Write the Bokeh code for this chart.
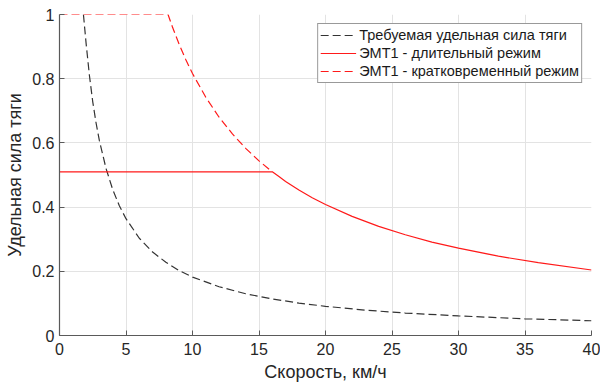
from bokeh.plotting import figure
from bokeh.models import Range1d, FixedTicker, Legend, LegendItem, CustomJSTickFormatter
from bokeh.embed import file_html
from bokeh.resources import INLINE

# Required specific traction force (black dashed)
req_x = [1.8, 2.0, 2.25, 2.5, 2.75, 3.0, 3.5, 4.0, 4.5, 5.0, 6.0, 7.0, 8.0, 9.0, 10.0,
         12.0, 14.0, 16.0, 18.0, 20.0, 23.0, 26.0, 30.0, 35.0, 40.0]
req_y = [1.0, 0.91, 0.81, 0.728, 0.662, 0.607, 0.52, 0.455, 0.404, 0.364, 0.303, 0.26,
         0.228, 0.202, 0.182, 0.152, 0.13, 0.114, 0.101, 0.091, 0.079, 0.07, 0.061, 0.052, 0.046]

# EMT1 continuous mode (red solid)
cont_x = [0.0, 16.0, 16.5, 17.0, 18.0, 19.0, 20.0, 22.0, 24.0, 26.0, 28.0, 30.0, 33.0, 36.0, 40.0]
cont_y = [0.51, 0.51, 0.495, 0.48, 0.453, 0.429, 0.408, 0.371, 0.34, 0.314, 0.291, 0.272, 0.247, 0.227, 0.204]

# EMT1 short-term mode (red dashed)
short_x = [0.0, 8.16, 8.5, 9.0, 9.5, 10.0, 11.0, 12.0, 13.0, 14.0, 15.0, 16.0]
short_y = [1.0, 1.0, 0.96, 0.907, 0.859, 0.816, 0.742, 0.68, 0.628, 0.583, 0.544, 0.51]

x_ticks = [0, 5, 10, 15, 20, 25, 30, 35, 40]
y_ticks = [0, 0.2, 0.4, 0.6, 0.8, 1.0]

labels = ["Требуемая удельная сила тяги",
          "ЭМТ1 - длительный режим",
          "ЭМТ1 - кратковременный режим"]

FONT = "Liberation Sans"

p = figure(frame_width=532, frame_height=321, output_backend="svg", toolbar_location=None,
           x_range=Range1d(0, 40), y_range=Range1d(0, 1),
           min_border_left=59, min_border_right=9, min_border_top=14, min_border_bottom=46)

p.outline_line_color = None
p.background_fill_color = "white"
p.border_fill_color = "white"

for ax in (p.xaxis[0], p.yaxis[0]):
    ax.axis_line_color = "#5a5a5a"
    ax.axis_line_width = 1.2
    ax.major_tick_line_color = "#5a5a5a"
    ax.major_tick_in = 5
    ax.major_tick_out = 0
    ax.minor_tick_line_color = None
    ax.major_label_text_font = FONT
    ax.major_label_text_font_size = "16px"
    ax.major_label_text_color = "#262626"
    ax.axis_label_text_font = FONT
    ax.axis_label_text_font_size = "18px"
    ax.axis_label_text_font_style = "normal"
    ax.axis_label_text_color = "#262626"

p.xaxis.ticker = FixedTicker(ticks=x_ticks)
p.yaxis.ticker = FixedTicker(ticks=y_ticks)
p.yaxis.formatter = CustomJSTickFormatter(code="return (tick == 0 || tick == 1) ? tick.toFixed(0) : tick.toFixed(1);")
p.xaxis.axis_label = "Скорость, км/ч"
p.yaxis.axis_label = "Удельная сила тяги"
p.xaxis.major_label_standoff = 7
p.xaxis.axis_label_standoff = 4
p.yaxis.major_label_standoff = 5
p.yaxis.axis_label_standoff = 4

p.xgrid.ticker = FixedTicker(ticks=x_ticks)
p.ygrid.ticker = FixedTicker(ticks=y_ticks)
p.grid.grid_line_color = "#e3e3e3"
p.grid.grid_line_width = 1

r1 = p.line(req_x, req_y, line_color="#333333", line_width=1.2, line_dash="8 4")
r2 = p.line(cont_x, cont_y, line_color="#ff1a1a", line_width=1.2)
r3 = p.line(short_x, short_y, line_color="#ff1a1a", line_width=1.2, line_dash="8 4")

legend = Legend(items=[LegendItem(label=labels[0], renderers=[r1]),
                       LegendItem(label=labels[1], renderers=[r2]),
                       LegendItem(label=labels[2], renderers=[r3])],
                location="top_right")
legend.margin = 9
legend.padding = 2
legend.spacing = 0
legend.label_standoff = 3
legend.glyph_width = 36
legend.glyph_height = 18
legend.label_height = 18
legend.label_text_font = FONT
legend.label_text_font_size = "14.5px"
legend.label_text_color = "#1a1a1a"
legend.border_line_color = "#333333"
legend.border_line_width = 1
legend.background_fill_alpha = 1
p.add_layout(legend)

open("out.html", "w").write(file_html(p, INLINE))
